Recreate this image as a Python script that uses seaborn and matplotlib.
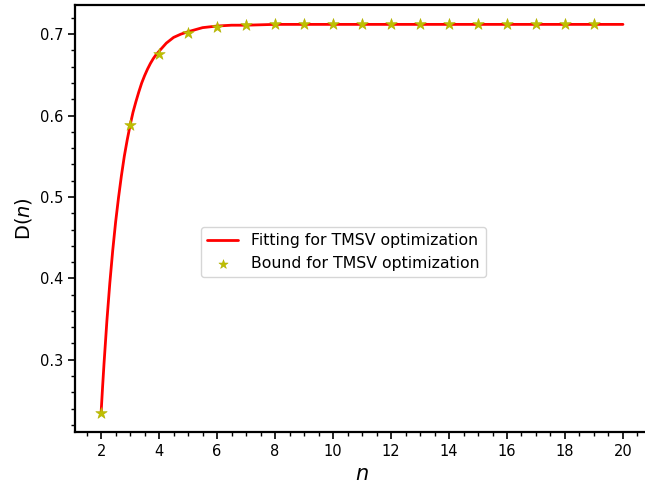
import matplotlib
matplotlib.use("Agg")
import matplotlib.pyplot as plt
from matplotlib.ticker import MultipleLocator
import pandas as pd
import seaborn as sns

# Fitted curve, sampled densely where it bends
fit_n = [2.0, 2.05, 2.1, 2.2, 2.3, 2.4, 2.5, 2.6, 2.7, 2.8, 2.9, 3.0,
         3.1, 3.2, 3.3, 3.4, 3.5, 3.6, 3.7, 3.8, 3.9, 4.0,
         4.25, 4.5, 4.75, 5.0, 5.5, 6.0, 6.5, 7.0, 8.0, 10.0,
         12.0, 14.0, 16.0, 18.0, 20.0]
fit_d = [0.235, 0.266, 0.295, 0.348, 0.394, 0.434, 0.469, 0.499, 0.526, 0.550, 0.570, 0.588,
         0.604, 0.617, 0.629, 0.640, 0.649, 0.657, 0.664, 0.670, 0.675, 0.679,
         0.689, 0.696, 0.700, 0.703, 0.708, 0.710, 0.711, 0.711, 0.712, 0.712,
         0.712, 0.712, 0.712, 0.712, 0.712]

# Bound values at integer n
bound_n = list(range(2, 20))
bound_d = [0.235, 0.588, 0.676, 0.701, 0.709, 0.711, 0.712, 0.712, 0.712,
           0.712, 0.712, 0.712, 0.712, 0.712, 0.712, 0.712, 0.712, 0.712]

fit_df = pd.DataFrame({"n": fit_n, "D": fit_d})
bound_df = pd.DataFrame({"n": bound_n, "D": bound_d})

sns.set_style("ticks")
plt.rcParams["font.family"] = ["DejaVu Sans"]
plt.rcParams.update({"text.color": "black", "axes.labelcolor": "black",
                     "xtick.color": "black", "ytick.color": "black"})

fig = plt.figure(figsize=(6.45, 4.87), dpi=100)
ax = fig.add_axes([0.1163, 0.1129, 0.890, 0.8768])

sns.lineplot(data=fit_df, x="n", y="D", ax=ax, color="red", linewidth=2,
             label="Fitting for TMSV optimization")
sns.scatterplot(data=bound_df, x="n", y="D", ax=ax, color="#bfbf00", marker="*",
                s=75, linewidth=0.4, edgecolor="#b0b000", zorder=3,
                label="Bound for TMSV optimization")

ax.set_xlim(1.1, 20.9)
ax.set_ylim(0.2112, 0.7358)
ax.xaxis.set_major_locator(MultipleLocator(2))
ax.xaxis.set_minor_locator(MultipleLocator(0.5))
ax.yaxis.set_major_locator(MultipleLocator(0.1))
ax.yaxis.set_minor_locator(MultipleLocator(0.02))

for side in ax.spines.values():
    side.set_visible(True)
    side.set_linewidth(1.6)
    side.set_color("black")
ax.tick_params(which="major", length=5, width=1.2, labelsize=10.5)
ax.tick_params(which="minor", length=3, width=1.0)

ax.set_xlabel("$n$", fontsize=15)
ax.set_ylabel("D($n$)", fontsize=14)

ax.legend(loc="center", bbox_to_anchor=(0.467, 0.421), fontsize=11.3,
          frameon=True, markerscale=0.8)

fig.savefig("out.png", dpi=100)
